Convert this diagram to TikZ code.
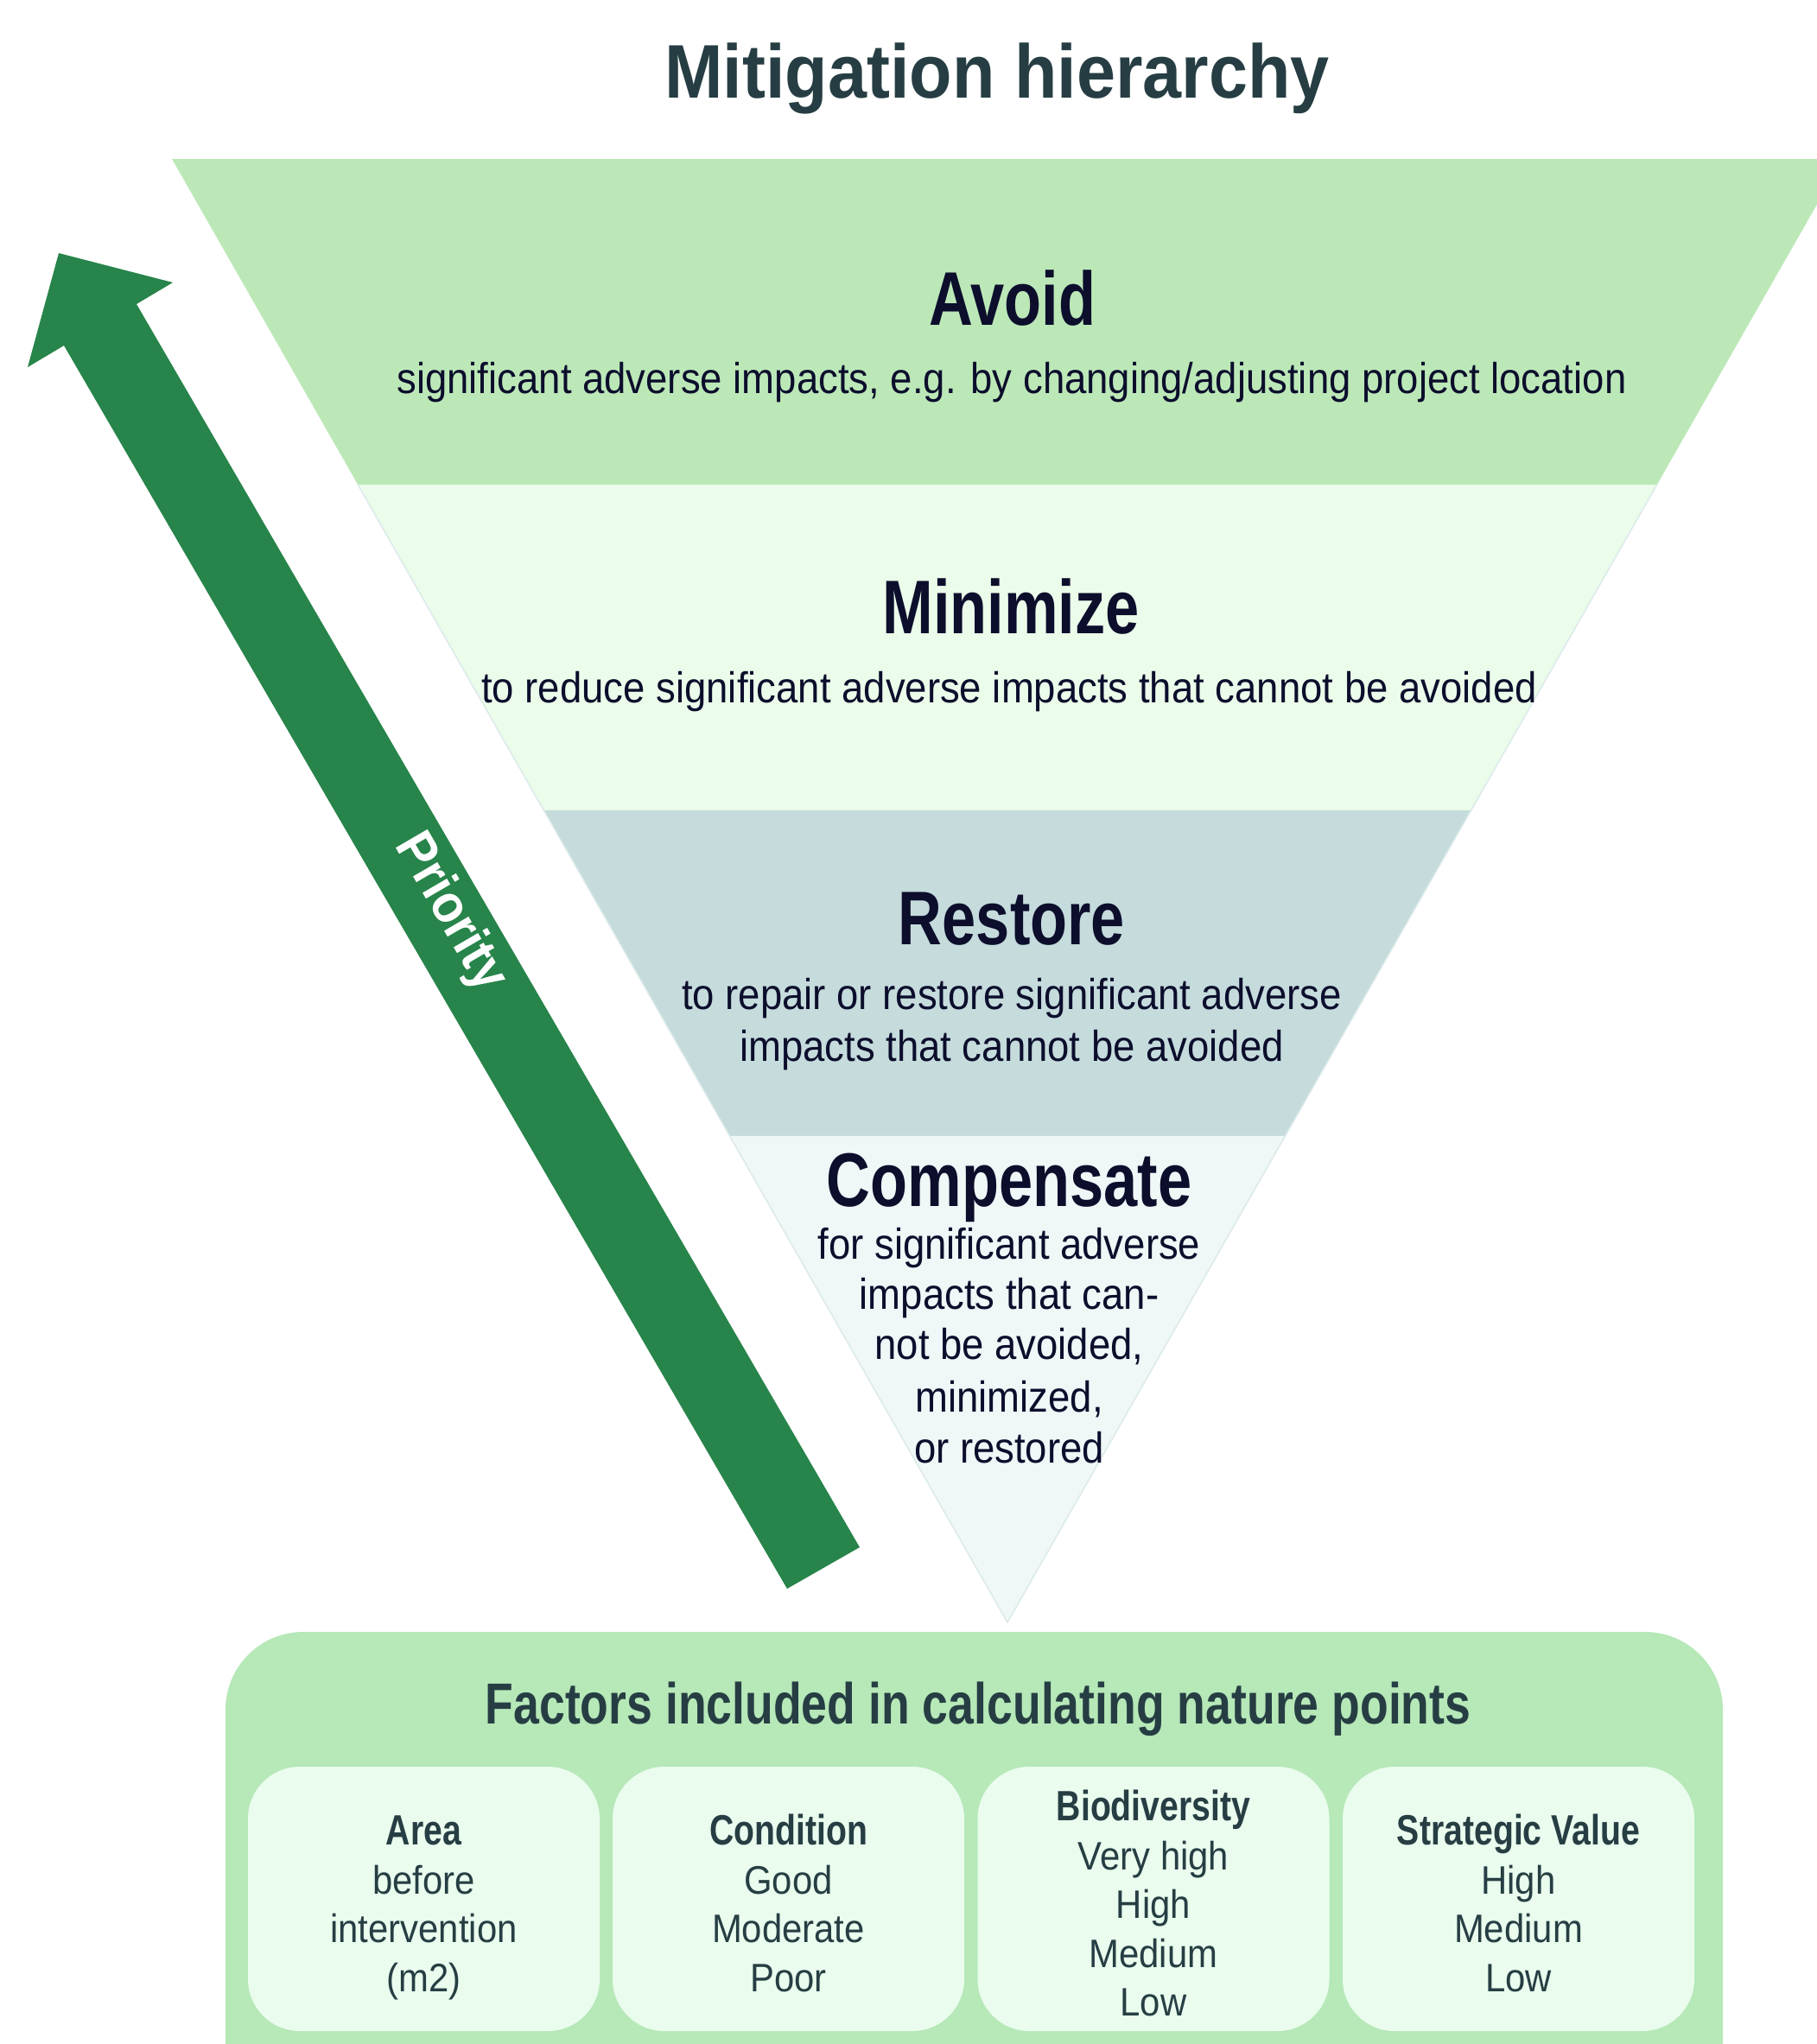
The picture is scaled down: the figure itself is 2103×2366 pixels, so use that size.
\documentclass[tikz,border=0pt]{standalone}
\usepackage{fontspec}
\setmainfont{Liberation Sans}
\newfontfamily\titlefont{Liberation Sans}[FakeStretch=0.92]
\newfontfamily\headfont{Liberation Sans}[FakeStretch=0.80]
\newfontfamily\bodyfont{Liberation Sans}[FakeStretch=0.91]
\usetikzlibrary{calc}
\definecolor{titlecol}{HTML}{263E43}
\definecolor{navy}{HTML}{0C0E2C}
\definecolor{avoidcol}{HTML}{BCE8B8}
\definecolor{minimcol}{HTML}{EBFCEA}
\definecolor{restcol}{HTML}{C5DBDC}
\definecolor{compcol}{HTML}{EFF7F7}
\definecolor{arrowcol}{HTML}{27844A}
\definecolor{bigboxcol}{HTML}{B6E8B8}
\definecolor{smallboxcol}{HTML}{EAFCEE}
\definecolor{edgecol}{HTML}{DCEAEA}
\begin{document}
\begin{tikzpicture}[x=1pt,y=-1pt,
  titlestyle/.style={font=\titlefont\bfseries\fontsize{88}{100}\selectfont, text=titlecol, anchor=base, inner sep=0pt},
  bandhead/.style={font=\headfont\bfseries\fontsize{88}{100}\selectfont, text=navy, anchor=base, inner sep=0pt},
  bandtext/.style={font=\bodyfont\fontsize{50}{59}\selectfont, text=navy, anchor=base, inner sep=0pt},
  factorhead/.style={font=\headfont\bfseries\fontsize{67}{80}\selectfont, text=titlecol, anchor=base, inner sep=0pt},
  boxhead/.style={font=\headfont\bfseries\fontsize{49}{58}\selectfont, text=titlecol, anchor=base, inner sep=0pt},
  boxtext/.style={font=\bodyfont\fontsize{46}{57}\selectfont, text=titlecol, anchor=base, inner sep=0pt},
  factorbox/.style={fill=smallboxcol, rounded corners=60pt, minimum width=407pt, minimum height=306pt, inner sep=0pt},
  priotext/.style={font=\titlefont\bfseries\fontsize{62}{70}\selectfont, text=white, inner sep=0pt, rotate=-59.8}
]
\clip (0,0) rectangle (2103,2366);
\fill[white] (0,0) rectangle (2103,2366);

% title
\node[titlestyle] (title) at (1154,113) {Mitigation hierarchy};

% inverted triangle
\coordinate (TL) at (199,184);
\coordinate (TR) at (2133,184);
\coordinate (AP) at (1166,1878);
\coordinate (L1) at ($(TL)!0.2226!(AP)$);
\coordinate (R1) at ($(TR)!0.2226!(AP)$);
\coordinate (L2) at ($(TL)!0.4451!(AP)$);
\coordinate (R2) at ($(TR)!0.4451!(AP)$);
\coordinate (L3) at ($(TL)!0.6676!(AP)$);
\coordinate (R3) at ($(TR)!0.6676!(AP)$);
\fill[avoidcol] (TL) -- (TR) -- (R1) -- (L1) -- cycle;
\fill[minimcol] (L1) -- (R1) -- (R2) -- (L2) -- cycle;
\fill[restcol] (L2) -- (R2) -- (R3) -- (L3) -- cycle;
\fill[compcol] (L3) -- (R3) -- (AP) -- cycle;
\draw[edgecol, line width=1.5pt] (L1) -- (AP) -- (R1);

% priority arrow
\fill[arrowcol] (911,1839) -- (995,1791) -- (158,352) -- (200,327) -- (68,293) -- (32,425) -- (74,400) -- cycle;
\node[priotext] (prio) at (521,1057) {Priority};

% band texts
\node[bandhead] (avoid) at (1172,376) {Avoid};
\node[bandtext] (avoidsub) at (1171,455) {significant adverse impacts, e.g. by changing/adjusting project location};
\node[bandhead] (minim) at (1170,733) {Minimize};
\node[bandtext] (minimsub) at (1168,813) {to reduce significant adverse impacts that cannot be avoided};
\node[bandhead] (rest) at (1171,1093) {Restore};
\node[bandtext] (restsubA) at (1171,1168) {to repair or restore significant adverse};
\node[bandtext] (restsubB) at (1171,1228) {impacts that cannot be avoided};
\node[bandhead] (comp) at (1168,1396) {Compensate};
\node[bandtext] (compA) at (1168,1457) {for significant adverse};
\node[bandtext] (compB) at (1168,1515) {impacts that can-};
\node[bandtext] (compC) at (1168,1573) {not be avoided,};
\node[bandtext] (compD) at (1168,1634) {minimized,};
\node[bandtext] (compE) at (1168,1693) {or restored};

% factors panel
\fill[bigboxcol, rounded corners=90pt] (261,1889) rectangle (1994,2470);
\node[factorhead] (fhead) at (1132,1995) {Factors included in calculating nature points};

\node[factorbox] (b1) at (490.5,2198) {};
\node[factorbox] (b2) at (912.5,2198) {};
\node[factorbox] (b3) at (1335,2198) {};
\node[factorbox] (b4) at (1757.5,2198) {};

\node[boxhead] (b1h) at (490.5,2135) {Area};
\node[boxtext] (b1a) at (490.5,2192) {before};
\node[boxtext] (b1b) at (490.5,2248) {intervention};
\node[boxtext] (b1c) at (490.5,2305) {(m2)};

\node[boxhead] (b2h) at (912.5,2135) {Condition};
\node[boxtext] (b2a) at (912.5,2192) {Good};
\node[boxtext] (b2b) at (912.5,2248) {Moderate};
\node[boxtext] (b2c) at (912.5,2305) {Poor};

\node[boxhead] (b3h) at (1335,2107) {Biodiversity};
\node[boxtext] (b3a) at (1335,2164) {Very high};
\node[boxtext] (b3b) at (1335,2220) {High};
\node[boxtext] (b3c) at (1335,2277) {Medium};
\node[boxtext] (b3d) at (1335,2333) {Low};

\node[boxhead] (b4h) at (1757.5,2135) {Strategic Value};
\node[boxtext] (b4a) at (1757.5,2192) {High};
\node[boxtext] (b4b) at (1757.5,2248) {Medium};
\node[boxtext] (b4c) at (1757.5,2305) {Low};
\end{tikzpicture}
\end{document}
